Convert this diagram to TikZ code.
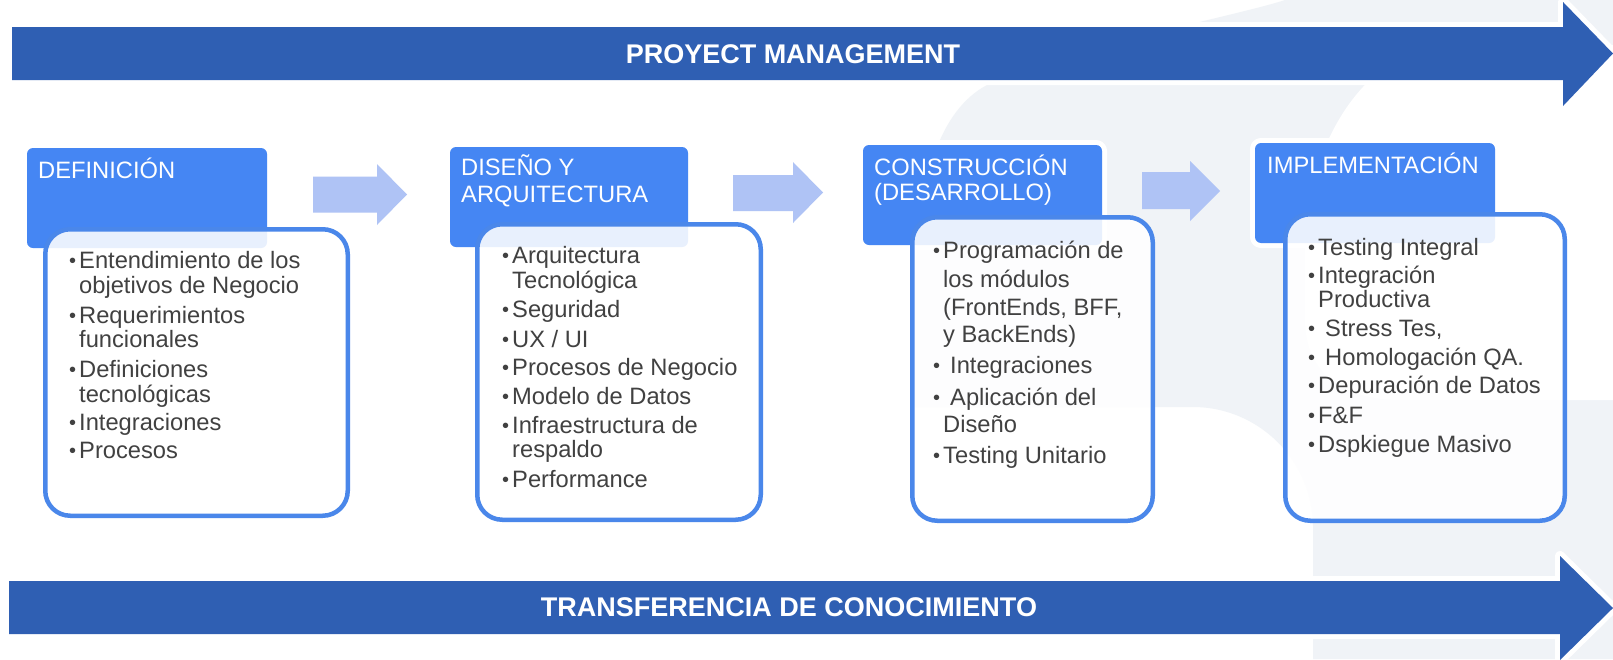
\documentclass[tikz,border=0pt]{standalone}
\usepackage{fontspec}
\setmainfont{Liberation Sans}
\definecolor{pmblue}{HTML}{2F5FB3}
\definecolor{hdrblue}{HTML}{4586F3}
\definecolor{brdblue}{HTML}{4A87EA}
\definecolor{lightarr}{HTML}{AFC3F5}
\definecolor{bggrey}{HTML}{F0F3F7}
\definecolor{txtgrey}{HTML}{414141}
\newcommand{\bul}{\llap{{\fontsize{20}{20}\selectfont\raisebox{0.3pt}{•}}\hspace{3pt}}}
\newcommand{\bulw}{\llap{{\fontsize{20}{20}\selectfont\raisebox{0.3pt}{•}}\hspace{10pt}}}
\begin{document}
\begin{tikzpicture}[x=1pt,y=-1pt,
  halo/.style={preaction={draw=white,line width=10pt,line join=round}},
  bigarrow/.style={fill=pmblue, halo},
  smallarrow/.style={fill=lightarr},
  hdr/.style={rectangle, rounded corners=6pt, fill=hdrblue, halo, inner sep=0pt, outer sep=0pt},
  cbox/.style={rectangle, rounded corners=25pt, draw=brdblue, line width=4.5pt, fill=white, fill opacity=0.88, inner sep=0pt},
  hdrtxt/.style={anchor=base west, inner sep=0pt, text=white, font=\fontsize{23.7}{26}\selectfont},
  itm/.style={anchor=base west, inner sep=0pt, text=txtgrey, font=\fontsize{23.7}{26}\selectfont},
  ttl/.style={inner sep=0pt, text=white, font=\bfseries\fontsize{27}{30}\selectfont}
]
\fill[white] (0,0) rectangle (1613,659);
\useasboundingbox (0,0) rectangle (1613,659);
% faint background mark
\fill[bggrey] (1285,0) .. controls (1240,15) and (1060,50) .. (987,85)
  .. controls (940,110) and (915,180) .. (915,300) -- (915,407) -- (1193,407)
  .. controls (1259,407) and (1313,461) .. (1313,527) -- (1313,659) -- (1613,659) -- (1613,0) -- cycle;
\fill[white] (1613,45) -- (1450,45) .. controls (1370,45) and (1305,140) .. (1305,250)
  -- (1305,320) .. controls (1305,370) and (1340,400) .. (1400,400) -- (1613,400) -- cycle;

% big arrows
\fill[bigarrow] (12,27) -- (1563,27) -- (1563,2) -- (1613,53.5) -- (1563,106) -- (1563,80) -- (12,80) -- cycle;
\node[ttl] (pm) at (793,54) {PROYECT MANAGEMENT};
\fill[bigarrow] (9,581) -- (1560,581) -- (1560,556) -- (1613,608) -- (1560,660) -- (1560,634) -- (9,634) -- cycle;
\node[ttl] (tc) at (789,607) {TRANSFERENCIA DE CONOCIMIENTO};

% small arrows
\fill[smallarrow] (313,176.5) -- (377,176.5) -- (377,164) -- (407,194.5) -- (377,225) -- (377,212.5) -- (313,212.5) -- cycle;
\fill[smallarrow] (733,175) -- (793,175) -- (793,162) -- (823,192.5) -- (793,223) -- (793,211) -- (733,211) -- cycle;
\fill[smallarrow] (1142,172) -- (1190,172) -- (1190,161) -- (1220,191) -- (1190,221) -- (1190,209) -- (1142,209) -- cycle;

% header boxes
\node[hdr, minimum width=240pt, minimum height=100pt] (h1) at (147,198) {};
\node[hdr, minimum width=238pt, minimum height=100pt] (h2) at (569,197) {};
\node[hdr, minimum width=239pt, minimum height=100pt] (h3) at (982.5,195) {};
\node[hdr, minimum width=240pt, minimum height=100pt] (h4) at (1375,193) {};

% content boxes
\node[cbox, minimum width=302.5pt, minimum height=286.5pt] (c1) at (196.5,372.5) {};
\node[cbox, minimum width=283.5pt, minimum height=295.5pt] (c2) at (619,372) {};
\node[cbox, minimum width=240.5pt, minimum height=303.5pt] (c3) at (1032.5,369) {};
\node[cbox, minimum width=279.5pt, minimum height=306.5pt] (c4) at (1425,367.5) {};

% header texts
\node[hdrtxt] (h1t) at (38,178) {DEFINICIÓN};
\node[hdrtxt] (h2ta) at (461,175) {DISEÑO Y};
\node[hdrtxt] (h2tb) at (461,202) {ARQUITECTURA};
\node[hdrtxt] (h3ta) at (874,175) {CONSTRUCCIÓN};
\node[hdrtxt] (h3tb) at (874,200) {(DESARROLLO)};
\node[hdrtxt] (h4t) at (1267,173) {IMPLEMENTACIÓN};

% column 1
\node[itm] (d1) at (79,268) {\bul Entendimiento de los};
\node[itm] (d2) at (79,293) {objetivos de Negocio};
\node[itm] (d3) at (79,323) {\bul Requerimientos};
\node[itm] (d4) at (79,347) {funcionales};
\node[itm] (d5) at (79,377) {\bul Definiciones};
\node[itm] (d6) at (79,402) {tecnológicas};
\node[itm] (d7) at (79,430) {\bul Integraciones};
\node[itm] (d8) at (79,458) {\bul Procesos};

% column 2
\node[itm] (a1) at (512,263) {\bul Arquitectura};
\node[itm] (a2) at (512,288) {Tecnológica};
\node[itm] (a3) at (512,317) {\bul Seguridad};
\node[itm] (a4) at (512,347) {\bul UX / UI};
\node[itm] (a5) at (512,375) {\bul Procesos de Negocio};
\node[itm] (a6) at (512,404) {\bul Modelo de Datos};
\node[itm] (a7) at (512,433) {\bul Infraestructura de};
\node[itm] (a8) at (512,457) {respaldo};
\node[itm] (a9) at (512,487) {\bul Performance};

% column 3
\node[itm] (b1) at (943,258) {\bul Programación de};
\node[itm] (b2) at (943,287) {los módulos};
\node[itm] (b3) at (943,315) {(FrontEnds, BFF,};
\node[itm] (b4) at (943,342) {y BackEnds)};
\node[itm] (b5) at (950,373) {\bulw Integraciones};
\node[itm] (b6) at (950,405) {\bulw Aplicación del};
\node[itm] (b7) at (943,432) {Diseño};
\node[itm] (b8) at (943,463) {\bul Testing Unitario};

% column 4
\node[itm] (e1) at (1318,255) {\bul Testing Integral};
\node[itm] (e2) at (1318,283) {\bul Integración};
\node[itm] (e3) at (1318,307) {Productiva};
\node[itm] (e4) at (1325,336) {\bulw Stress Tes,};
\node[itm] (e5) at (1325,365) {\bulw Homologación QA.};
\node[itm] (e6) at (1318,393) {\bul Depuración de Datos};
\node[itm] (e7) at (1318,423) {\bul F\&F};
\node[itm] (e8) at (1318,452) {\bul Dspkiegue Masivo};
\end{tikzpicture}
\end{document}
